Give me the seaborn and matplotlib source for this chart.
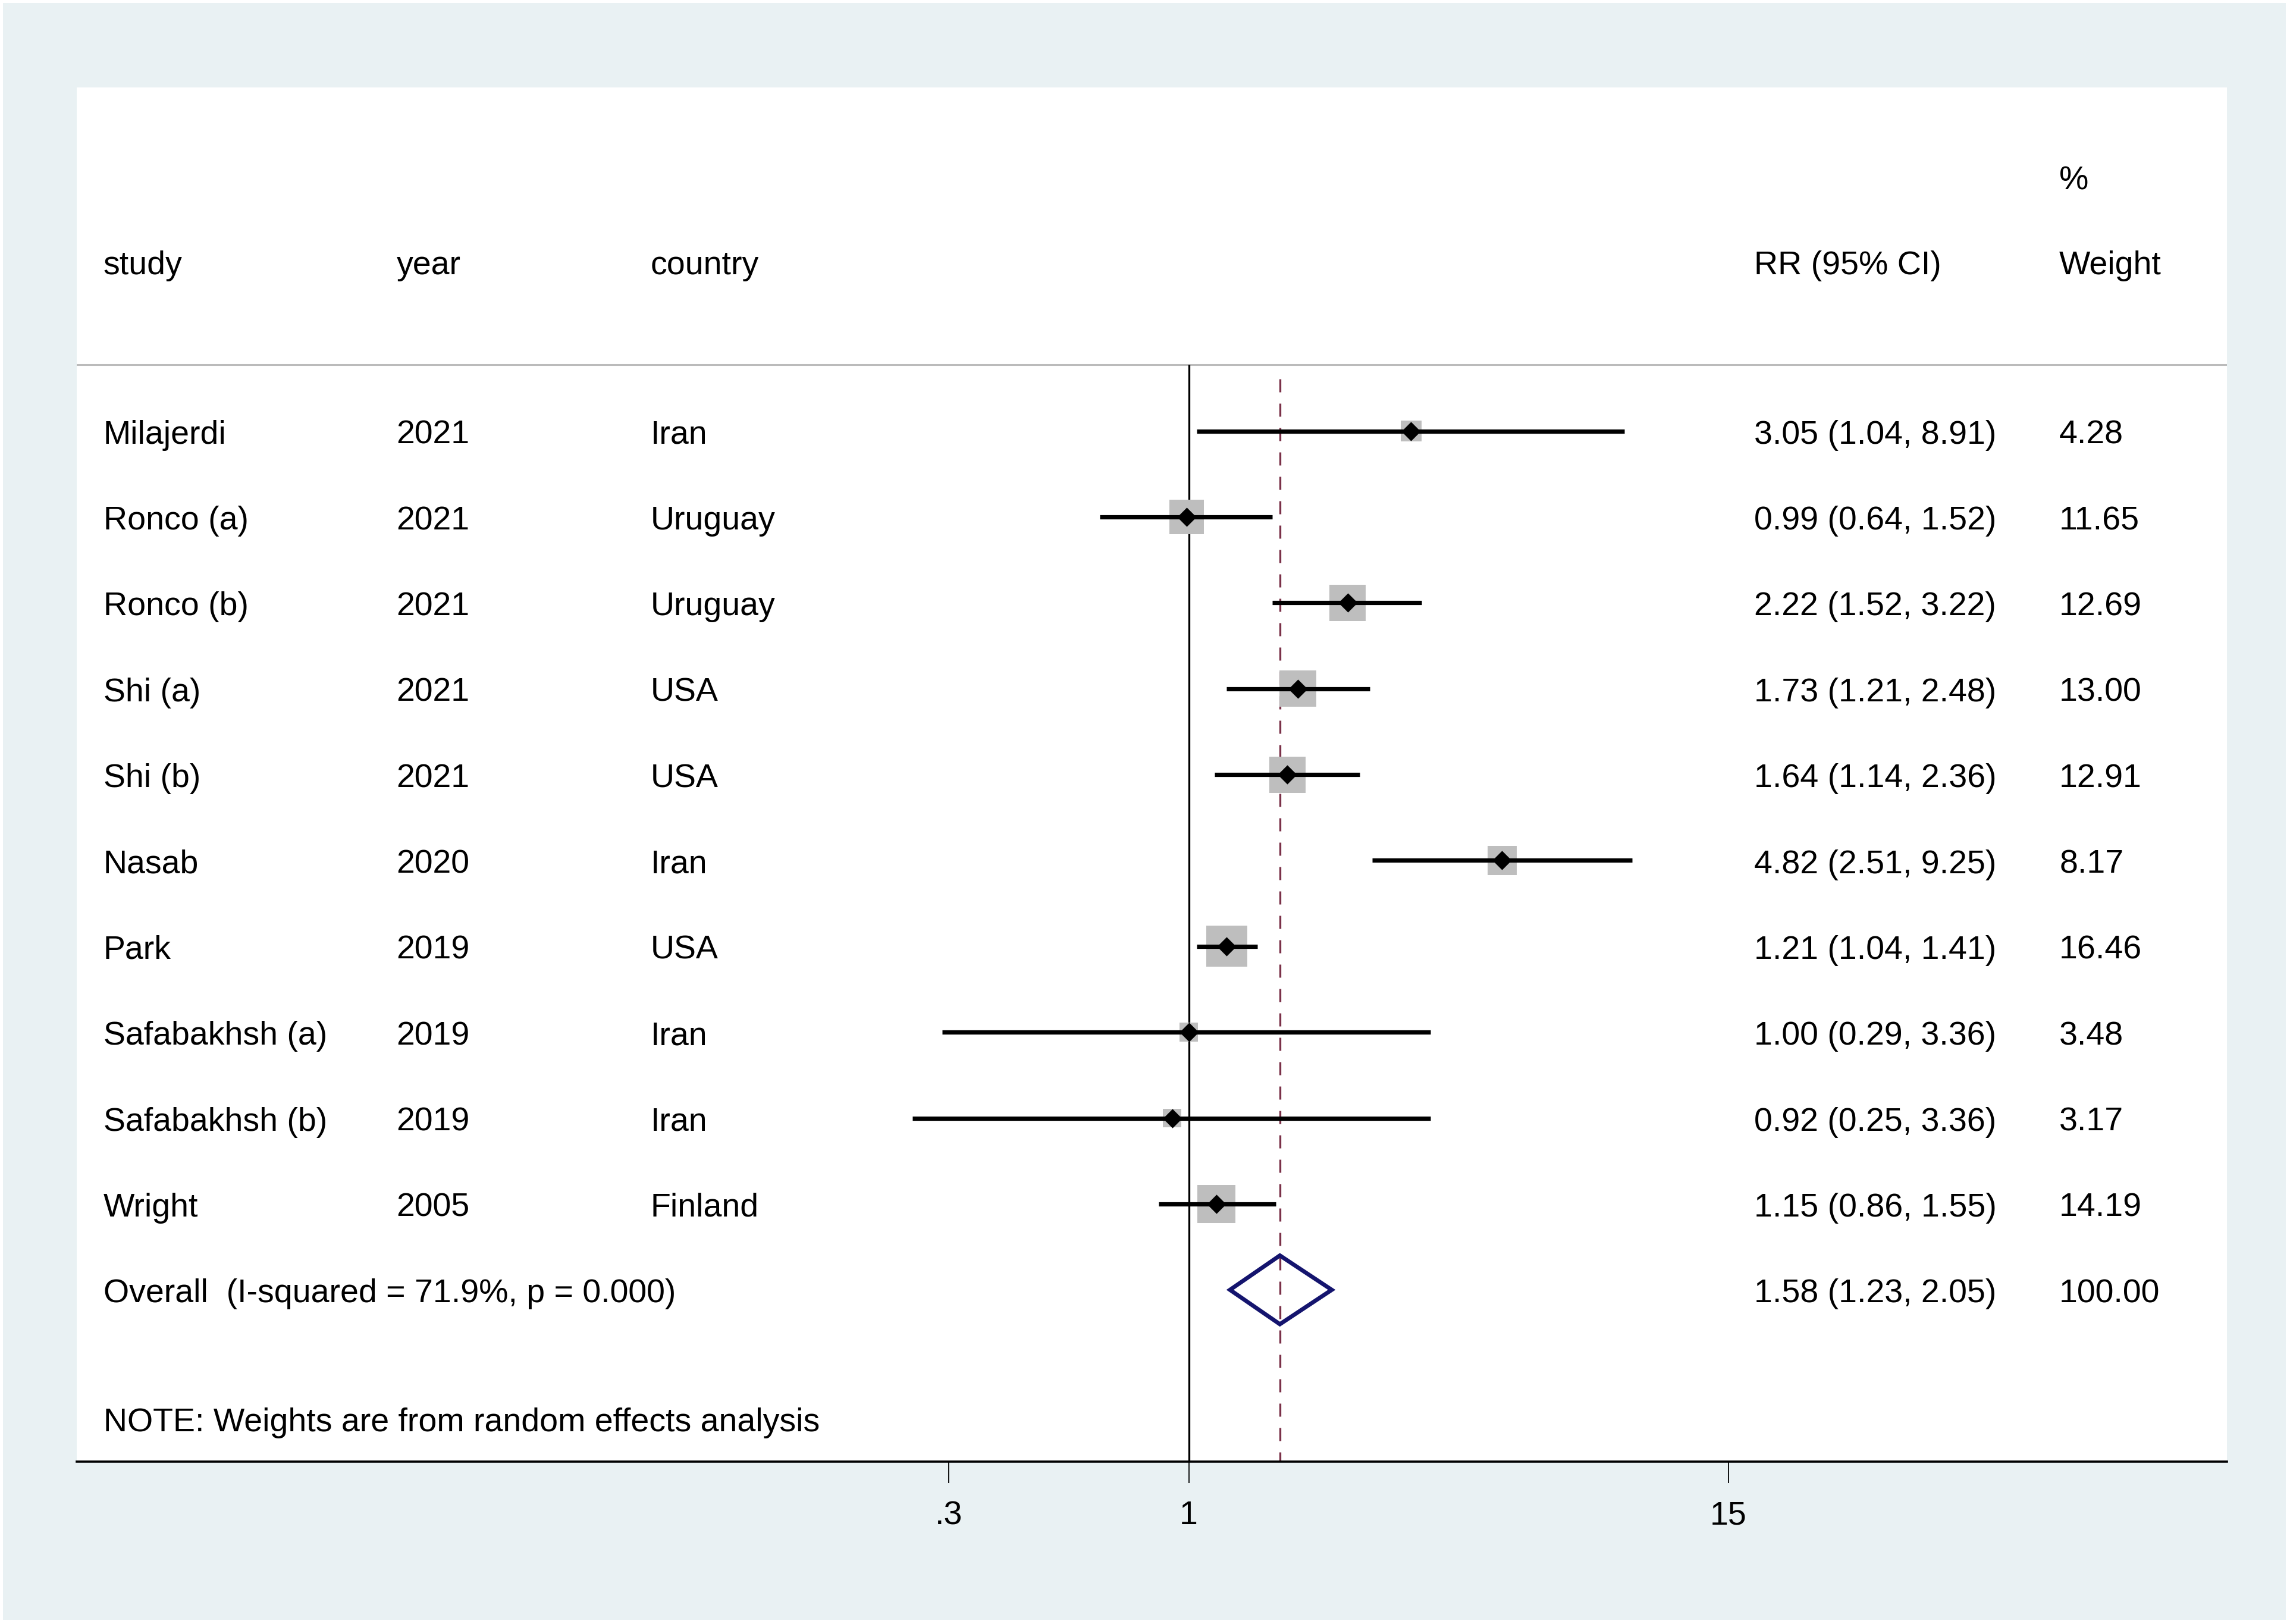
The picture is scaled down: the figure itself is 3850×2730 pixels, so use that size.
import numpy as np
import pandas as pd
import matplotlib.pyplot as plt
import matplotlib.transforms as mtransforms
from matplotlib.patches import Rectangle
from matplotlib.ticker import NullLocator
import seaborn as sns

# data
studies = ["Milajerdi", "Ronco (a)", "Ronco (b)", "Shi (a)", "Shi (b)", "Nasab",
           "Park", "Safabakhsh (a)", "Safabakhsh (b)", "Wright"]
years = ["2021", "2021", "2021", "2021", "2021", "2020", "2019", "2019", "2019", "2005"]
countries = ["Iran", "Uruguay", "Uruguay", "USA", "USA", "Iran", "USA", "Iran", "Iran", "Finland"]
rr = [3.05, 0.99, 2.22, 1.73, 1.64, 4.82, 1.21, 1.00, 0.92, 1.15]
lower = [1.04, 0.64, 1.52, 1.21, 1.14, 2.51, 1.04, 0.29, 0.25, 0.86]
upper = [8.91, 1.52, 3.22, 2.48, 2.36, 9.25, 1.41, 3.36, 3.36, 1.55]
weights = [4.28, 11.65, 12.69, 13.00, 12.91, 8.17, 16.46, 3.48, 3.17, 14.19]

overall_rr = 1.58
overall_lower = 1.23
overall_upper = 2.05
overall_weight = "100.00"
overall_label = "Overall  (I-squared = 71.9%, p = 0.000)"
note = "NOTE: Weights are from random effects analysis"

xticks = [0.3, 1, 15]
xticklabels = [".3", "1", "15"]

df = pd.DataFrame({"study": studies, "year": years, "country": countries,
                   "rr": rr, "lower": lower, "upper": upper, "weight": weights})
df["row"] = np.arange(len(df))
df["ci"] = [f"{a:.2f} ({b:.2f}, {c:.2f})" for a, b, c in zip(df.rr, df.lower, df.upper)]
overall_row = len(df)

sns.set_theme(style="white")
plt.rcParams['font.family'] = ['Liberation Sans', 'DejaVu Sans']
fs = 40

fig = plt.figure(figsize=(38.5, 27.3), dpi=100, facecolor="white")
fig.patches.append(Rectangle((5 / 3850, 7 / 2730), 3838 / 3850, 2718 / 2730,
                             transform=fig.transFigure, facecolor="#E9F1F3",
                             edgecolor="none", zorder=-1))
ax = fig.add_axes([0.0336, 0.1, 0.9389, 0.8461])
ax.set_facecolor("white")

# squares sized by weight (area proportional to weight)
k = 150
wmin, wmax = min(weights), max(weights)
sns.scatterplot(data=df, x="rr", y="row", size="weight", sizes=(k * wmin, k * wmax),
                size_norm=(wmin, wmax), marker="s", color="#BEBEBE", linewidth=0,
                legend=False, ax=ax, zorder=2)
ax.hlines(df.row, df.lower, df.upper, color="black", lw=5.2, zorder=3)
sns.scatterplot(data=df, x="rr", y="row", marker="D", s=270, color="black",
                linewidth=0, legend=False, ax=ax, zorder=4)

# reference lines
sep_y = -0.77
ax.axhline(sep_y, color="#BBBBBB", lw=2.2, zorder=1)
ax.vlines(1, sep_y, 12, color="black", lw=2.4, zorder=1)
ax.vlines(overall_rr, -0.61, 12, color="#7A3048", lw=2.4,
          linestyles=(0, (6.6, 5.7)), zorder=1)

# overall diamond
ax.fill([overall_lower, overall_rr, overall_upper, overall_rr],
        [overall_row, overall_row - 0.4, overall_row, overall_row + 0.4],
        facecolor="none", edgecolor="#14146E", lw=5, joinstyle="miter", zorder=5)

ax.set_xscale("log")
ax.set_xlim(0.003775, 183.2)
ax.set_ylim(12, -4)
ax.set_xticks(xticks)
ax.set_xticklabels(xticklabels)
ax.xaxis.set_minor_locator(NullLocator())
ax.set_yticks([])
ax.set_xlabel("")
ax.set_ylabel("")
ax.tick_params(axis="x", direction="out", length=26, width=1.3, pad=21,
               labelsize=fs, colors="black", bottom=True)
for side in ["left", "top", "right"]:
    ax.spines[side].set_visible(False)
ax.spines["bottom"].set_color("black")
ax.spines["bottom"].set_linewidth(2.6)

# text columns
trans = mtransforms.blended_transform_factory(ax.transAxes, ax.transData)
cols = {"study": 0.0123, "year": 0.1486, "country": 0.2667, "ci": 0.7800, "weight": 0.9220}
off = 0.146


def put(x, y, s):
    ax.text(x, y + off, s, transform=trans, ha="left", va="baseline",
            fontsize=fs, color="black")


put(cols["weight"], -2.96, "%")
put(cols["study"], -1.97, "study")
put(cols["year"], -1.97, "year")
put(cols["country"], -1.97, "country")
put(cols["ci"], -1.97, "RR (95% CI)")
put(cols["weight"], -1.97, "Weight")

for _, r in df.iterrows():
    put(cols["study"], r.row, r.study)
    put(cols["year"], r.row, r.year)
    put(cols["country"], r.row, r.country)
    put(cols["ci"], r.row, r.ci)
    put(cols["weight"], r.row, f"{r.weight:.2f}")

put(cols["study"], overall_row, overall_label)
put(cols["ci"], overall_row, f"{overall_rr:.2f} ({overall_lower:.2f}, {overall_upper:.2f})")
put(cols["weight"], overall_row, overall_weight)
put(cols["study"], 11.5, note)

fig.savefig("out.png", dpi=100, facecolor=fig.get_facecolor())
